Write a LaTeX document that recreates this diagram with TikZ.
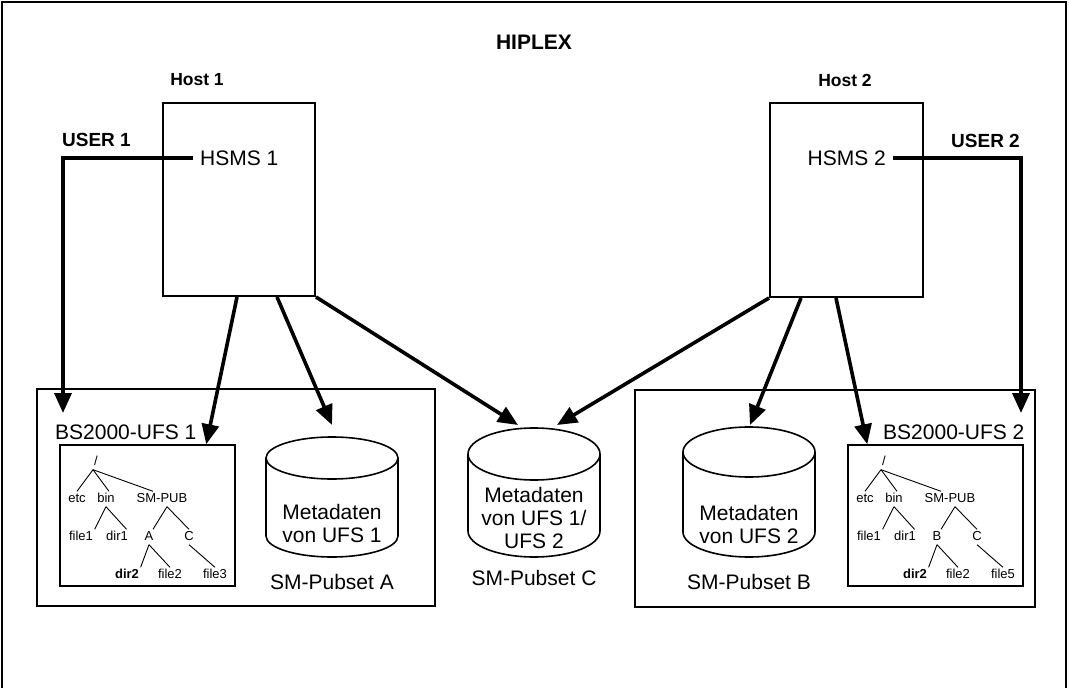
\documentclass[tikz,border=0pt]{standalone}
\usepackage{fontspec}
\setmainfont{Liberation Sans}
\usetikzlibrary{arrows.meta,calc}
\tikzset{
  bigtxt/.style={font=\fontsize{21}{23}\selectfont, inner sep=0pt, align=center},
  titletxt/.style={font=\fontsize{21}{24}\selectfont\bfseries, inner sep=0pt},
  hosttxt/.style={font=\fontsize{17.5}{20}\selectfont\bfseries, inner sep=0pt},
  usertxt/.style={font=\fontsize{19}{22}\selectfont\bfseries, inner sep=0pt},
  treetxt/.style={font=\fontsize{13}{15}\selectfont, inner sep=1.5pt, text height=9.5pt, text depth=2.5pt},
  hostbox/.style={draw, line width=2pt, inner sep=0pt},
  ufsbox/.style={draw, line width=2pt, inner sep=0pt},
  treebox/.style={draw, line width=1.5pt, inner sep=0pt},
  hsms/.style={font=\fontsize{21}{23}\selectfont, inner ysep=0pt, inner xsep=7pt},
  flow/.style={line width=3.6pt, -{Triangle[length=20pt,width=17pt]}},
  userflow/.style={line width=3.6pt, line join=miter, -{Triangle[length=20pt,width=17pt]}},
  tline/.style={line width=0.9pt},
  cylline/.style={line width=1.6pt},
}
\newcommand\mycyl[5]{%
  \draw[cylline] (#1-#3, #2+#4) -- (#1-#3, #5-#4) arc (180:0:#3 and #4) -- (#1+#3, #2+#4);
  \draw[cylline] (#1, #2+#4) ellipse (#3 and #4);
}
\newcommand\mytree[4]{% #1 xoffset, #2 prefix, #3 letter, #4 file
  \begin{scope}[xshift=#1]
    \node[treetxt] (#2root) at (96,462) {/};
    \node[treetxt] (#2etc) at (77,499) {etc};
    \node[treetxt] (#2bin) at (106,499) {bin};
    \node[treetxt] (#2smpub) at (162,499) {SM-PUB};
    \node[treetxt] (#2file1) at (81,537) {file1};
    \node[treetxt] (#2dir1) at (117,537) {dir1};
    \node[treetxt] (#2A) at (149,537) {#3};
    \node[treetxt] (#2C) at (189,537) {C};
    \node[treetxt, font=\fontsize{13}{15}\selectfont\bfseries] (#2dir2) at (127,575) {dir2};
    \node[treetxt] (#2file2) at (170,575) {file2};
    \node[treetxt] (#2file3) at (215,575) {#4};
    \draw[tline] ([xshift=-3pt]#2root.south) -- (#2etc.north);
    \draw[tline] ([xshift=-3pt]#2root.south) -- ([xshift=3pt]#2bin.north);
    \draw[tline] ([xshift=-3pt]#2root.south) -- ([xshift=-9pt]#2smpub.north);
    \draw[tline] (#2bin.south) -- (#2file1.north east);
    \draw[tline] (#2bin.south) -- ([xshift=-3pt]#2dir1.north east);
    \draw[tline] ([xshift=5pt]#2smpub.south) -- ([xshift=4pt]#2A.north);
    \draw[tline] ([xshift=5pt]#2smpub.south) -- (#2C.north);
    \draw[tline] (#2A.south) -- (#2dir2.north east);
    \draw[tline] (#2A.south) -- (#2file2.north);
    \draw[tline] (#2C.south) -- (#2file3.north);
  \end{scope}
}
\begin{document}
\begin{tikzpicture}[x=1pt,y=1pt,yscale=-1]
\useasboundingbox (0,0) rectangle (1069,688);
% outer frame
\draw[line width=2pt] (2,690) -- (2,2) -- (1066,2) -- (1066,690);
% titles
\node[titletxt] (hiplex) at (534,42) {HIPLEX};
\node[hosttxt] (host1lbl) at (197,80) {Host 1};
\node[hosttxt] (host2lbl) at (845,80) {Host 2};
% host boxes
\node[hostbox, minimum width=152pt, minimum height=193pt] (host1) at (239,199.5) {};
\node[hostbox, minimum width=153pt, minimum height=194pt] (host2) at (846.5,200) {};
\node[hsms, anchor=west] (hsms1) at (193,158) {HSMS 1};
\node[hsms, anchor=east] (hsms2) at (893,158) {HSMS 2};
\node[usertxt] (user1) at (96.5,140) {USER 1};
\node[usertxt] (user2) at (985.5,141) {USER 2};
% UFS boxes
\node[ufsbox, minimum width=398pt, minimum height=217pt] (ufs1) at (236,497.5) {};
\node[ufsbox, minimum width=400pt, minimum height=217pt] (ufs2) at (835,498.5) {};
\node[bigtxt, anchor=west] (ufs1lbl) at (55,432) {BS2000-UFS 1};
\node[bigtxt, anchor=west] (ufs2lbl) at (883,432) {BS2000-UFS 2};
% tree boxes
\node[treebox, minimum width=175pt, minimum height=141pt] (tree1) at (147.5,515.5) {};
\node[treebox, minimum width=175pt, minimum height=141pt] (tree2) at (935.5,515.5) {};
\mytree{0pt}{a}{A}{file3}
\mytree{788pt}{b}{B}{file5}
% cylinders
\mycyl{332}{437}{66}{21}{557}
\mycyl{749}{427}{66}{25}{557}
\mycyl{534}{428}{66}{26}{557}
\coordinate (cylA) at (332,437);
\coordinate (cylB) at (749,427);
\coordinate (cylC) at (534,428);
\node[bigtxt] (metaA) at (332,523.5) {Metadaten\\von UFS 1};
\node[bigtxt] (metaB) at (749,524) {Metadaten\\von UFS 2};
\node[bigtxt] (metaC) at (534,518) {Metadaten\\von UFS 1/\\UFS 2};
\node[bigtxt] (pubA) at (332,582) {SM-Pubset A};
\node[bigtxt] (pubB) at (749,582) {SM-Pubset B};
\node[bigtxt] (pubC) at (534,578) {SM-Pubset C};
% user arrows
\coordinate (u1end) at (63,413);
\coordinate (u2end) at (1021,413);
\draw[userflow] (hsms1.west) -| (u1end);
\draw[userflow] (hsms2.east) -| (u2end);
% host 1 arrows
\draw[flow] ($(host1.south west)+(75,0)$) -- ($(tree1.north west)+(147,0)$);
\draw[flow] ($(host1.south west)+(115,0)$) -- ($(cylA)+(0,-12)$);
\draw[flow] (host1.south east) -- ($(cylC)+(-16,-3)$);
% host 2 arrows
\draw[flow] (host2.south west) -- ($(cylC)+(23,-3)$);
\draw[flow] ($(host2.south west)+(32,0)$) -- ($(cylB)+(1,-2)$);
\draw[flow] ($(host2.south west)+(67,0)$) -- ($(tree2.north west)+(20,0)$);
\end{tikzpicture}
\end{document}
